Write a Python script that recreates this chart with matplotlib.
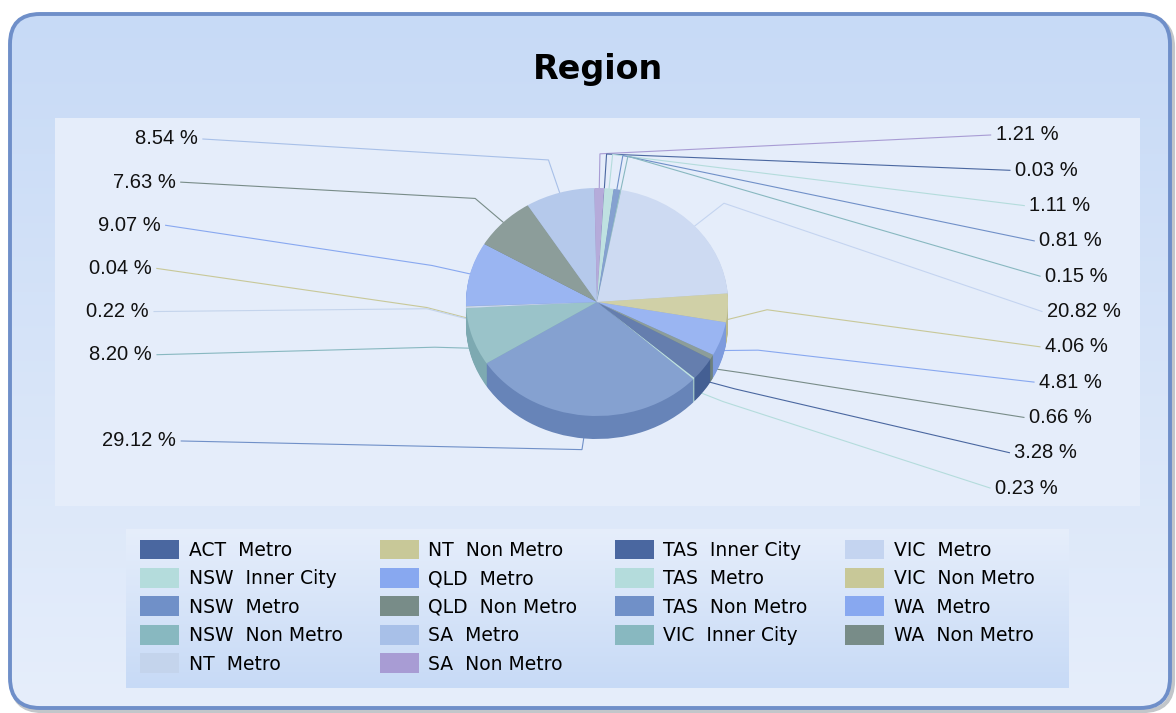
import numpy as np
import matplotlib
matplotlib.use("Agg")
import matplotlib.pyplot as plt
from matplotlib.patches import FancyBboxPatch, Rectangle, Patch
from matplotlib.colors import LinearSegmentedColormap, to_rgb

# ---------------- data ----------------
title = "Region"
categories = ["ACT  Metro", "NSW  Inner City", "NSW  Metro", "NSW  Non Metro",
              "NT  Metro", "NT  Non Metro", "QLD  Metro", "QLD  Non Metro",
              "SA  Metro", "SA  Non Metro", "TAS  Inner City", "TAS  Metro",
              "TAS  Non Metro", "VIC  Inner City", "VIC  Metro", "VIC  Non Metro",
              "WA  Metro", "WA  Non Metro"]
shares = [3.28, 0.23, 29.12, 8.20, 0.22, 0.04, 9.07, 7.63, 8.54, 1.21,
          0.03, 1.11, 0.81, 0.15, 20.82, 4.06, 4.81, 0.66]
colors = ["#4a67a0", "#b4dcdc", "#7090c8", "#88b8c0", "#c4d4ec", "#c8c898",
          "#88a8f0", "#788c88", "#a8c0e8", "#a89cd4", "#4a67a0", "#b4dcdc",
          "#7090c8", "#88b8c0", "#c4d4f0", "#c8c898", "#88a8f0", "#788c88"]

# ---------------- layout ----------------
W, H = 1176, 713
cx, cy = 597, 302          # pie centre (px)
rx, ry = 131, 114          # pie radii (px)
depth = 23                 # pie thickness (px)
START = -30                # start angle of first slice

def mix(c, other, t):
    a = np.array(to_rgb(c)); b = np.array(to_rgb(other))
    return tuple(a * (1 - t) + b * t)

top_colors = [mix(c, "white", 0.15) for c in colors]
side_colors = [mix(c, "black", 0.08) for c in colors]

fig = plt.figure(figsize=(W / 100, H / 100), dpi=100)
bg = fig.add_axes([0, 0, 1, 1])
bg.set_xlim(0, W)
bg.set_ylim(H, 0)
bg.axis("off")

def grad_fill(ax, x0, y0, x1, y1, ctop, cbot, clip=None, z=0):
    cmap = LinearSegmentedColormap.from_list("g", [ctop, cbot])
    g = np.linspace(0, 1, 256).reshape(-1, 1)
    im = ax.imshow(g, extent=(x0, x1, y1, y0), origin="upper", aspect="auto",
                   cmap=cmap, zorder=z, interpolation="bilinear")
    if clip is not None:
        im.set_clip_path(clip)
    return im

# shadow
shadow = FancyBboxPatch((12, 17), 1161, 694, boxstyle="round,pad=0,rounding_size=30",
                        fc="none", ec="#9aa0a8", lw=3, alpha=0.6, zorder=0.5)
bg.add_patch(shadow)
outer = FancyBboxPatch((10, 14), 1160, 694, boxstyle="round,pad=0,rounding_size=30",
                       fc="none", ec="#6f8fc9", lw=2.8, zorder=2)
bg.add_patch(outer)
clipbox = FancyBboxPatch((10, 14), 1160, 694, boxstyle="round,pad=0,rounding_size=30",
                         fc="none", ec="none", transform=bg.transData)
bg.add_patch(clipbox)
grad_fill(bg, 10, 14, 1170, 708, "#c7daf6", "#e6eefb", clip=clipbox, z=1)

# plot area
bg.add_patch(Rectangle((55, 118), 1085, 388, fc="#e5edfa", ec="none", zorder=1.5))
# legend box
grad_fill(bg, 126, 529, 1069, 688, "#e6eefb", "#c7daf6", z=1.5)

bg.set_xlim(0, W)
bg.set_ylim(H, 0)

bg.text(597.5, 70, title, ha="center", va="center", fontsize=24,
        fontweight="bold", family="DejaVu Sans", color="black", zorder=5)

# ---------------- pie ----------------
ax = fig.add_axes([(cx - 1.5 * rx) / W, 1 - (cy + 1.5 * ry) / H, 3 * rx / W, 3 * ry / H])
d = depth / ry
for k in np.linspace(d, 0, 24, endpoint=False):
    ax.pie(shares, colors=side_colors, startangle=START, counterclock=False,
           center=(0, -k), radius=1, wedgeprops=dict(linewidth=0))
wedges, _ = ax.pie(shares, colors=top_colors, startangle=START, counterclock=False,
                   radius=1, wedgeprops=dict(linewidth=0))
ax.set_aspect("auto")
ax.set_xlim(-1.5, 1.5)
ax.set_ylim(-1.5, 1.5)
ax.axis("off")
ax.patch.set_alpha(0)

def to_bg(x, y):
    p = ax.transData.transform((x, y))
    return bg.transData.inverted().transform(p)

# ---------------- labels ----------------
lab_cx, lab_cy, lab_a, lab_b = 598, 311, 449, 379
sides = {"right": dict(top=135, gap=35.3, items=[]),
         "left": dict(top=139, gap=43.14, items=[])}
for i, w in enumerate(wedges):
    th = np.deg2rad((w.theta1 + w.theta2) / 2)
    c, s = np.cos(th), np.sin(th)
    anchor = to_bg(c, s - (d * 0.5 if s < 0 else 0))
    elbow = to_bg(1.3 * c, 1.3 * s)
    side = "right" if c >= 0 else "left"
    sides[side]["items"].append((elbow[1], i, anchor, elbow))

for side, info in sides.items():
    items = sorted(info["items"], key=lambda t: t[0])
    prev = -1
    for ey, i, anchor, elbow in items:
        slot = max(prev + 1, int(np.floor((ey - info["top"]) / info["gap"])))
        prev = slot
        y = info["top"] + slot * info["gap"]
        xo = lab_a * np.sqrt(max(0.0, 1 - ((y - lab_cy) / lab_b) ** 2))
        if side == "right":
            x = lab_cx + xo
            end = (x - 5, y)
            ha = "left"
        else:
            x = lab_cx - xo
            end = (x + 5, y)
            ha = "right"
        bg.plot([anchor[0], elbow[0], end[0]], [anchor[1], elbow[1], end[1]],
                color=colors[i], lw=0.8, zorder=3, solid_joinstyle="miter")
        bg.text(x, y, f"{shares[i]:.2f} %", ha=ha, va="center", fontsize=14.5,
                family="Liberation Sans", color="#111111", zorder=5)

# draw pie above leader-lines
ax.set_zorder(4)

# ---------------- legend ----------------
handles = [Patch(facecolor=c, edgecolor="none") for c in colors]
fs = 13.5
fig.legend(handles, categories, ncol=4, loc="upper left",
           bbox_to_anchor=(140 / W, 1 - 539.5 / H), frameon=False,
           borderpad=0, borderaxespad=0, handlelength=2.1, handleheight=1.25,
           handletextpad=0.5, labelspacing=0.44, columnspacing=1.98,
           prop={"family": "DejaVu Sans", "size": fs})

fig.savefig("out.png", dpi=100)
